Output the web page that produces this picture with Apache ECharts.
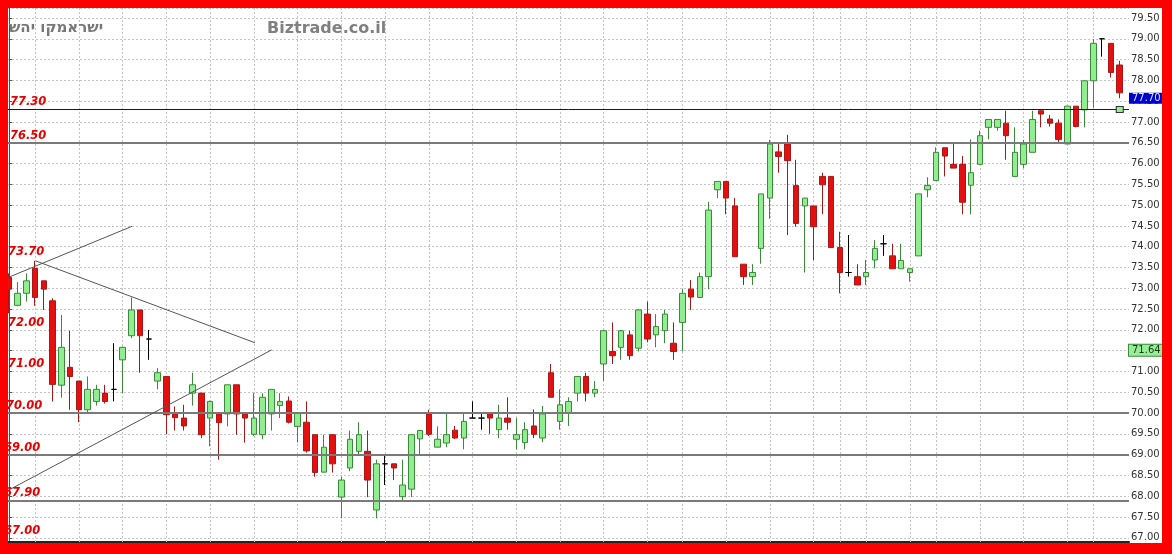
<!DOCTYPE html>
<html><head><meta charset="utf-8">
<script src="https://cdn.jsdelivr.net/npm/echarts@6/dist/echarts.min.js"></script>
<style>html,body{margin:0;padding:0;background:#fff}#c{width:1172px;height:554px}</style>
</head><body><div id="c"></div>
<script>
const opens = [73.26,72.59,72.88,73.48,73.18,72.70,70.67,71.10,70.77,70.08,
70.28,70.48,70.57,71.28,71.86,72.48,71.78,70.77,70.88,69.98,
69.88,70.48,70.48,69.88,69.98,69.98,70.68,69.98,69.49,69.48,
69.98,70.18,70.29,69.68,69.78,69.48,68.58,69.48,67.98,68.68,
69.08,69.08,67.67,68.78,68.78,67.99,68.17,69.38,69.98,69.18,
69.28,69.59,69.40,69.88,69.88,69.98,69.60,69.88,69.37,69.29,
69.69,69.40,70.97,69.80,70.00,70.48,70.88,70.48,71.18,71.48,
71.58,71.88,71.56,72.38,71.88,71.98,71.68,72.18,72.98,72.78,
73.28,75.37,75.57,74.98,73.58,73.28,73.96,75.17,76.28,76.47,
75.47,74.98,74.98,75.69,75.69,73.98,73.38,73.28,73.28,73.68,
74.07,73.78,73.47,73.38,73.78,75.37,75.59,76.38,75.98,75.98,
75.48,75.98,76.87,76.87,76.97,75.69,75.98,76.27,77.27,77.07,
76.97,76.47,77.38,77.29,77.99,79.00,78.89,78.37];
const closes = [72.98,72.88,73.18,72.78,72.98,70.69,71.58,70.88,70.08,70.57,
70.57,70.28,70.57,71.58,72.48,71.86,71.78,70.97,69.96,69.89,
69.69,70.68,69.48,70.28,69.77,70.68,69.98,69.88,69.88,70.38,
70.57,70.28,69.78,70.00,69.09,68.57,69.18,68.78,68.39,69.37,
69.48,68.39,68.78,68.78,68.68,68.27,69.48,69.58,69.49,69.37,
69.48,69.40,69.80,69.88,69.88,69.88,69.88,69.78,69.48,69.60,
69.49,69.98,70.38,70.20,70.28,70.88,70.48,70.57,71.98,71.38,
71.98,71.38,72.48,71.78,72.08,72.38,71.48,72.88,72.79,73.28,
74.88,75.57,75.17,73.76,73.28,73.38,75.27,76.47,76.17,76.07,
74.56,75.17,74.48,75.49,73.98,73.38,73.38,73.08,73.38,73.96,
74.07,73.47,73.67,73.47,75.27,75.47,76.27,76.18,75.89,75.07,
75.78,76.67,77.06,77.06,76.67,76.27,76.47,77.06,77.19,76.97,
76.58,77.38,76.89,77.99,78.89,79.00,78.19,77.70];
const lows = [72.40,72.57,72.68,72.58,72.48,70.28,70.37,70.08,69.78,70.01,
70.18,70.23,70.28,70.48,71.80,70.97,71.28,70.57,69.49,69.58,
69.58,70.18,69.40,69.20,68.88,69.68,69.48,69.29,69.45,69.37,
69.58,69.88,69.75,69.29,69.05,68.47,68.57,68.57,67.47,68.60,
68.97,67.98,67.47,68.27,68.39,67.87,67.98,68.97,69.45,69.18,
69.18,69.38,69.13,69.88,69.60,69.50,69.40,69.60,69.13,69.13,
69.40,69.30,70.38,69.60,69.69,70.28,70.28,70.38,70.77,71.18,
71.28,71.28,71.48,71.70,71.58,71.68,71.28,71.48,72.48,72.78,
72.98,75.17,74.78,73.76,73.08,73.08,73.59,74.67,75.78,74.28,
74.48,73.38,73.68,74.78,73.98,72.88,73.28,73.08,73.08,73.48,
73.78,73.47,73.47,73.16,73.78,75.19,75.59,75.69,75.89,74.78,
74.78,75.98,76.58,76.79,76.09,75.69,75.89,76.27,76.87,76.89,
76.47,76.47,76.87,76.87,77.34,78.57,78.07,77.57];
const highs = [73.36,73.15,73.36,73.66,73.18,72.76,72.36,71.98,70.77,70.88,
70.68,70.68,71.68,71.60,72.78,72.48,72.00,71.08,70.88,70.16,
70.20,70.97,70.48,70.30,70.00,70.68,70.68,70.00,70.48,70.48,
70.57,70.48,70.40,70.00,70.28,69.48,69.48,69.48,68.47,69.58,
69.78,69.58,68.88,68.97,68.78,68.88,69.50,69.60,70.08,69.68,
69.98,69.69,70.00,70.28,70.00,69.98,70.20,70.38,69.88,69.78,
70.09,70.17,71.18,70.57,70.38,70.88,70.97,70.77,72.00,72.18,
72.00,71.98,72.50,72.68,72.38,72.48,72.18,72.98,73.20,73.38,
75.08,75.57,75.57,75.17,73.58,73.58,75.27,76.57,76.47,76.69,
76.09,75.17,74.98,75.78,75.69,74.36,74.28,73.58,73.68,74.16,
74.28,74.07,74.07,73.47,75.27,75.67,76.39,76.38,76.47,76.18,
76.58,76.79,77.06,77.06,77.27,76.87,76.57,77.27,77.27,77.17,
77.06,77.38,77.38,77.99,78.99,79.00,78.89,78.47];
// horizontal support/resistance levels drawn as lines
const levelLines = [77.30, 76.50, 70.00, 69.00, 67.90];
// levels with a label only
const levelLabels = [73.70, 72.00, 71.00, 67.00];
// weekly vertical grid lines (candle index)
const weekLines = [3,8,13,18,23,28,33,38,43,48,53,58,63,68,73,77,82,87,92,95,98,103,106,111,116,121,124];
// trend lines: [[index, value], [index, value]]
const trendLines = [
  [[-0.11, 73.26], [14.06, 74.49]],
  [[3.05, 73.66], [28.13, 71.69]],
  [[-0.11, 68.14], [30.04, 71.52]]
];
const lastPrice = 77.70;
const indicatorValue = 71.64;
const handleLevel = 77.30;
const titleText = 'ישראמקו יהש';
const siteText = 'Biztrade.co.il';

const candleData = opens.map((o, i) => [i, o, closes[i], lows[i], highs[i]]);
const lastIndex = opens.length - 1;

function redLabel(v) {
  const dx = v >= 76 ? 2 : (v >= 71 ? 0 : (v >= 70 ? -2 : -4));
  return {
    show: true, position: 'insideStartTop', distance: [dx, 1],
    formatter: p => Number(p.value).toFixed(2),
    color: '#e60000', fontStyle: 'italic', fontWeight: 'bold',
    fontSize: 11.5, fontFamily: 'DejaVu Sans'
  };
}
const hidden = {color: 'rgba(0,0,0,0)', width: 0, type: 'solid'};

const markData = [];
levelLines.forEach(v => {
  markData.push({
    yAxis: v,
    lineStyle: v === 77.30 ? {color: '#1a1a1a', width: 1, type: 'solid'} : {color: '#7a7a7a', width: 2, type: 'solid'},
    label: redLabel(v)
  });
});
levelLabels.forEach(v => {
  markData.push({yAxis: v, lineStyle: hidden, label: redLabel(v)});
});
trendLines.forEach(t => {
  markData.push([
    {coord: t[0], lineStyle: {color: '#555', width: 1, type: 'solid'}, label: {show: false}},
    {coord: t[1]}
  ]);
});
markData.push({
  yAxis: lastPrice, lineStyle: hidden,
  label: {show: true, position: 'end', distance: 0, verticalAlign: 'top',
    formatter: p => Number(p.value).toFixed(2),
    backgroundColor: '#0000cc', color: '#dfe8ff', padding: [1, 3, 0, 3],
    fontSize: 10, fontFamily: 'DejaVu Sans'}
});
markData.push({
  yAxis: indicatorValue, lineStyle: hidden,
  label: {show: true, position: 'end', distance: 0, verticalAlign: 'top',
    formatter: p => Number(p.value).toFixed(2),
    backgroundColor: '#98ee98', borderColor: '#3c8c3c', borderWidth: 1,
    color: '#1a3a1a', padding: [1, 3, 0, 3],
    fontSize: 10, fontFamily: 'DejaVu Sans'}
});

const chart = echarts.init(document.getElementById('c'), null, {renderer: 'canvas'});
chart.setOption({
  animation: false,
  backgroundColor: '#ffffff',
  title: [
    {text: titleText, left: 9, top: 21, padding: 0,
     textStyle: {fontFamily: 'DejaVu Sans', fontSize: 15, fontWeight: 'bold', color: '#777'}},
    {text: siteText, left: 267, top: 21, padding: 0,
     textStyle: {fontFamily: 'DejaVu Sans', fontSize: 16, fontWeight: 'bold', color: '#808080'}}
  ],
  grid: {left: 8, right: 43, top: 8, bottom: 12, containLabel: false, outerBoundsMode: 'none'},
  xAxis: {
    type: 'value', min: -0.114, max: 128.06,
    axisLine: {show: true, onZero: false, lineStyle: {color: '#222', width: 2}},
    axisTick: {show: false}, axisLabel: {show: false}, splitLine: {show: false}
  },
  yAxis: {
    type: 'value', position: 'right', min: 66.9, max: 79.74,
    minInterval: 0.5, maxInterval: 0.5, splitNumber: 26,
    axisLine: {show: true, lineStyle: {color: '#ff0000', width: 1}},
    axisTick: {show: true, length: 3, lineStyle: {color: '#555'}},
    axisLabel: {showMinLabel: false, showMaxLabel: false, margin: 2,
      formatter: v => v.toFixed(2), color: '#333', fontSize: 10, fontFamily: 'DejaVu Sans'},
    splitLine: {show: true, lineStyle: {color: '#c4c4c4', width: 1, type: [2, 2]}}
  },
  series: [
    {
      type: 'line', data: [], silent: true, z: 1,
      markLine: {
        silent: true, symbol: 'none', z: 1, animation: false,
        label: {show: false},
        lineStyle: {color: '#c4c4c4', width: 1, type: [2, 2]},
        data: weekLines.map(i => ({xAxis: i}))
      }
    },
    {
      type: 'candlestick', data: candleData, barWidth: 6, z: 3,
      itemStyle: {
        color: '#90ee90', color0: '#e41010',
        borderColor: '#3a8a3a', borderColor0: '#a81818',
        borderColorDoji: '#000000', borderWidth: 1
      },
      markLine: {
        silent: true, symbol: 'none', animation: false, precision: 2,
        data: markData
      },
      markPoint: {
        silent: true, animation: false,
        data: [{coord: [lastIndex, handleLevel], symbol: 'rect', symbolSize: [7, 6],
          itemStyle: {color: '#98ee98', borderColor: '#333', borderWidth: 1}, label: {show: false}}]
      }
    }
  ],
  graphic: [
    {type: 'rect', z: 100, shape: {x: 0, y: 0, width: 1172, height: 8}, style: {fill: '#ff0000'}},
    {type: 'rect', z: 100, shape: {x: 0, y: 0, width: 8, height: 554}, style: {fill: '#ff0000'}},
    {type: 'rect', z: 100, shape: {x: 1162, y: 0, width: 10, height: 554}, style: {fill: '#ff0000'}},
    {type: 'rect', z: 100, shape: {x: 0, y: 543, width: 1172, height: 11}, style: {fill: '#ff0000'}}
  ]
});
</script>
</body></html>
